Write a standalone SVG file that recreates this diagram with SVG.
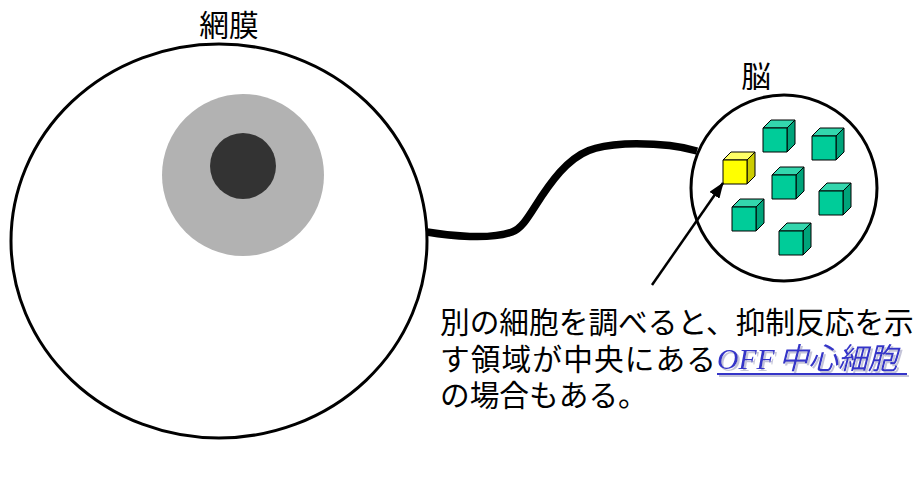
<svg xmlns="http://www.w3.org/2000/svg" width="918" height="478" viewBox="0 0 918 478">
  <style>
    .label { font-family: "Noto Sans CJK JP", "Noto Sans", sans-serif; font-size: 29.7px; fill: #000; }
    .outline { fill: #fff; stroke: #000; stroke-width: 3; }
    .cube path { stroke: #000; stroke-width: 1; stroke-linejoin: round; }
    .green .front { fill: #00cc99; }
    .green .top { fill: #33d6ad; }
    .green .side { fill: #00a37a; }
    .yellow .front { fill: #ffff00; }
    .yellow .top { fill: #ffff66; }
    .yellow .side { fill: #cccc00; }
    .link { font-style: italic; fill: #3535c8; }
  </style>
  <defs>
    <marker id="arrowhead" viewBox="0 0 16 12" refX="15" refY="6" markerWidth="16" markerHeight="12" markerUnits="userSpaceOnUse" orient="auto">
      <path d="M0,0 L16,6 L0,12 Z" fill="#000"/>
    </marker>
    <!-- soft grey offset shadow behind the link text -->
    <filter id="text-shadow" x="-5%" y="-20%" width="110%" height="140%">
      <feOffset in="SourceAlpha" dx="2" dy="2" result="off"/>
      <feFlood flood-color="#c4c4d8"/>
      <feComposite in2="off" operator="in" result="shadow"/>
      <feMerge>
        <feMergeNode in="shadow"/>
        <feMergeNode in="SourceGraphic"/>
      </feMerge>
    </filter>
  </defs>

  <!-- retina -->
  <g id="retina">
    <ellipse class="outline" cx="219" cy="241" rx="208" ry="197"/>
    <circle cx="243" cy="175" r="81" fill="#b2b2b2"/>
    <circle cx="243" cy="166" r="33" fill="#333333"/>
    <text class="label" x="229" y="36" text-anchor="middle">網膜</text>
  </g>

  <!-- brain with its cells: each cube is a 24x24 front face with 8px depth -->
  <g id="brain">
    <circle class="outline" cx="784" cy="188" r="93"/>
    <text class="label" x="756" y="87" text-anchor="middle">脳</text>
    <g class="cube yellow" transform="translate(723,160)">
      <path class="top" d="M0,0 L8,-8 L32,-8 L24,0 Z"/>
      <path class="side" d="M24,0 L32,-8 L32,16 L24,24 Z"/>
      <path class="front" d="M0,0 H24 V24 H0 Z"/>
    </g>
    <g class="cube green" transform="translate(763,128)">
      <path class="top" d="M0,0 L8,-8 L32,-8 L24,0 Z"/>
      <path class="side" d="M24,0 L32,-8 L32,16 L24,24 Z"/>
      <path class="front" d="M0,0 H24 V24 H0 Z"/>
    </g>
    <g class="cube green" transform="translate(812,136)">
      <path class="top" d="M0,0 L8,-8 L32,-8 L24,0 Z"/>
      <path class="side" d="M24,0 L32,-8 L32,16 L24,24 Z"/>
      <path class="front" d="M0,0 H24 V24 H0 Z"/>
    </g>
    <g class="cube green" transform="translate(772,175)">
      <path class="top" d="M0,0 L8,-8 L32,-8 L24,0 Z"/>
      <path class="side" d="M24,0 L32,-8 L32,16 L24,24 Z"/>
      <path class="front" d="M0,0 H24 V24 H0 Z"/>
    </g>
    <g class="cube green" transform="translate(732,207)">
      <path class="top" d="M0,0 L8,-8 L32,-8 L24,0 Z"/>
      <path class="side" d="M24,0 L32,-8 L32,16 L24,24 Z"/>
      <path class="front" d="M0,0 H24 V24 H0 Z"/>
    </g>
    <g class="cube green" transform="translate(819,191)">
      <path class="top" d="M0,0 L8,-8 L32,-8 L24,0 Z"/>
      <path class="side" d="M24,0 L32,-8 L32,16 L24,24 Z"/>
      <path class="front" d="M0,0 H24 V24 H0 Z"/>
    </g>
    <g class="cube green" transform="translate(779,231)">
      <path class="top" d="M0,0 L8,-8 L32,-8 L24,0 Z"/>
      <path class="side" d="M24,0 L32,-8 L32,16 L24,24 Z"/>
      <path class="front" d="M0,0 H24 V24 H0 Z"/>
    </g>
  </g>

  <!-- connectors: optic nerve and pointer to the highlighted cell -->
  <g id="connectors">
    <path d="M427,232 C450,236 490,240 512,232 C528,226 535,200 560,172 C580,150 595,146 625,144 C660,143 680,146 697,151" fill="none" stroke="#000" stroke-width="7.5" stroke-linecap="butt"/>
    <line x1="652" y1="285" x2="723" y2="183" stroke="#000" stroke-width="2.5" marker-end="url(#arrowhead)"/>
  </g>

  <!-- note -->
  <g id="note">
    <text class="label" x="440" y="333">別の細胞を調べると、抑制反応を示</text>
    <text class="label" x="440" y="369.5" textLength="276" lengthAdjust="spacing">す領域が中央にある</text>
    <text class="label" x="440" y="406">の場合もある。</text>
    <g id="off-center-link" filter="url(#text-shadow)">
      <text class="label link" x="717" y="369"><tspan font-family="Liberation Serif, serif">OFF</tspan><tspan dx="4">中心細胞</tspan></text>
      <line x1="717" y1="374" x2="907" y2="374" stroke="#3535c8" stroke-width="2"/>
    </g>
  </g>
</svg>
